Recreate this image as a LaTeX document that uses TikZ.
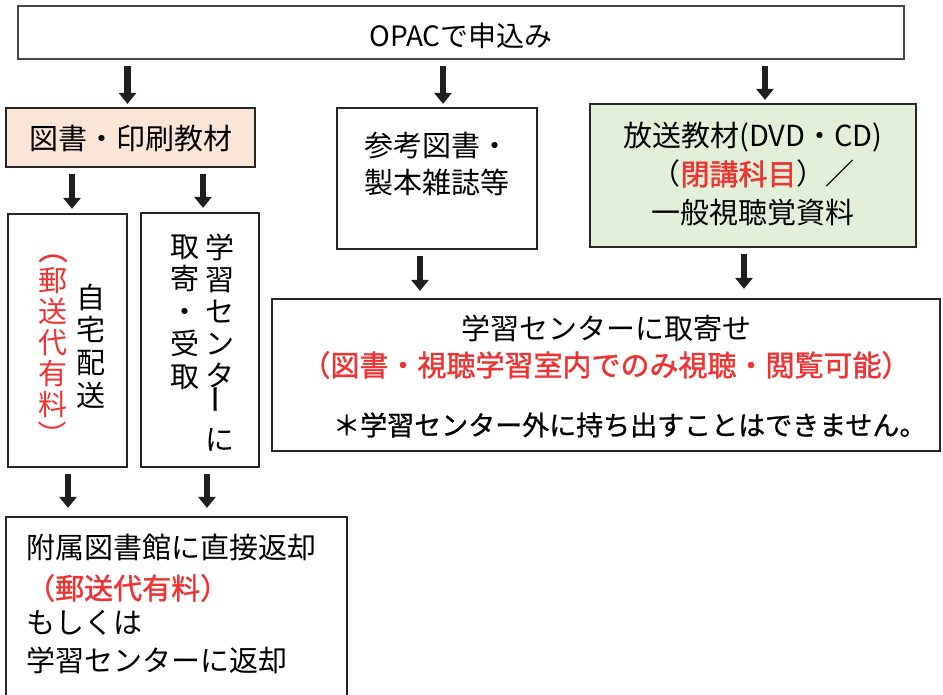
\documentclass[tikz,border=0pt]{standalone}
\usepackage{fontspec}
\usepackage{graphicx}
\setmainfont{Noto Sans CJK JP}
\newfontfamily\jpred{Noto Sans CJK JP}[FakeBold=1.3]
\newfontfamily\jpmed{Noto Sans CJK JP}[FakeBold=0.9]
\usetikzlibrary{arrows.meta,calc}
\definecolor{peach}{HTML}{FBE5D6}
\definecolor{mint}{HTML}{E2F0D9}
\definecolor{redtxt}{HTML}{EE3333}
\definecolor{edge}{HTML}{262626}
\newcommand{\vparL}{\rotatebox[origin=c]{-90}{（}}
\newcommand{\vparR}{\rotatebox[origin=c]{-90}{）}}
\newcommand{\rtx}[1]{{\jpred\color{redtxt}#1}}
\tikzset{
  box/.style={draw=edge, line width=2.2pt, inner sep=0pt, fill=white},
  topbox/.style={draw=black!72, line width=1.8pt, inner sep=0pt, fill=white},
  txt/.style={inner sep=0pt, font=\fontsize{29pt}{33pt}\selectfont, text=black},
  arr/.style={draw=black!88, line width=6.5pt, -{Triangle[width=17pt,length=11pt]}},
}
\begin{document}
\begin{tikzpicture}[x=1pt,y=-1pt]
\useasboundingbox (0,0) rectangle (943,694);
% boxes
\node[topbox, minimum width=886pt, minimum height=53pt] (top) at (461,32.5) {};
\node[box, fill=peach, minimum width=249pt, minimum height=59pt] (lib) at (130.5,137.5) {};
\node[box, minimum width=200pt, minimum height=141pt] (ref) at (437,178.5) {};
\node[box, fill=mint, minimum width=326pt, minimum height=143pt] (av) at (753,175.5) {};
\node[box, minimum width=119pt, minimum height=253pt] (home) at (67.5,340.5) {};
\node[box, minimum width=118pt, minimum height=254pt] (pick) at (200,340) {};
\node[box, minimum width=341pt, minimum height=203pt] (ret) at (176.5,618.5) {};
\node[box, minimum width=668pt, minimum height=152pt] (wide) at (606,375) {};
% texts
\node[txt, font=\fontsize{28pt}{32pt}\selectfont] (ttop) at (461,36) {OPACで申込み};
\node[txt] (tlib) at (131,138) {図書・印刷教材};
\node[txt, align=center, font=\fontsize{29pt}{37pt}\selectfont] (tref) at (437,164) {参考図書・\\製本雑誌等};
\node[txt, align=center, font=\fontsize{29pt}{38.5pt}\selectfont] (tav) at (753,174) {放送教材(DVD・CD)\\（\rtx{閉講科目}）／\\一般視聴覚資料};
\node[txt, align=center, font=\fontsize{29pt}{31pt}\selectfont, text=redtxt] (thred) at (53,342) {\jpred\vparL\\郵\\送\\代\\有\\料\\\vparR};
\node[txt, align=center, font=\fontsize{29pt}{32.7pt}\selectfont] (thblk) at (91,346) {自\\宅\\配\\送};
\node[txt, align=center, font=\fontsize{29pt}{32pt}\selectfont] (tpr) at (220,343) {学\\習\\セ\\ン\\タ\\\phantom{ー}\\に};
\node[txt, font=\fontsize{29pt}{32pt}\selectfont, rotate=90] (tbar) at (220,399) {\jpmed ー};
\node[txt, align=center, font=\fontsize{29pt}{32.5pt}\selectfont] (tpl) at (185,312) {取\\寄\\・\\受\\取};
\node[txt, anchor=west] (r1) at (26,547) {附属図書館に直接返却};
\node[txt, anchor=west] (r2) at (26,588) {\rtx{（郵送代有料）}};
\node[txt, anchor=west] (r3) at (26,623) {もしくは};
\node[txt, anchor=west] (r4) at (26,660) {学習センターに返却};
\node[txt] (w1) at (606,328) {学習センターに取寄せ};
\node[txt] (w2) at (606,365) {\rtx{（図書・視聴学習室内でのみ視聴・閲覧可能）}};
\node[txt, anchor=west, font=\fontsize{27pt}{31pt}\selectfont] (w3) at (333,425) {\jpmed ＊学習センター外に持ち出すことはできません。};
% arrows
\draw[arr] ([xshift=-3pt,yshift=-6pt]top.south -| lib.north) -- ([xshift=-3pt,yshift=3pt]lib.north);
\draw[arr] ([xshift=6pt,yshift=-6pt]top.south -| ref.north) -- ([xshift=6pt,yshift=3pt]ref.north);
\draw[arr] ([xshift=12pt,yshift=-6pt]top.south -| av.north) -- ([xshift=12pt,yshift=3pt]av.north);
\draw[arr] ([xshift=4.5pt,yshift=-6pt]lib.south -| home.north) -- ([xshift=4.5pt,yshift=4pt]home.north);
\draw[arr] ([xshift=3pt,yshift=-6pt]lib.south -| pick.north) -- ([xshift=3pt,yshift=4pt]pick.north);
\draw[arr] ([xshift=0.5pt,yshift=-6pt]home.south) -- ([xshift=0.5pt,yshift=8pt]home.south |- ret.north);
\draw[arr] ([xshift=7pt,yshift=-6pt]pick.south) -- ([xshift=7pt,yshift=8pt]pick.south |- ret.north);
\draw[arr] ([xshift=-17pt,yshift=-6pt]ref.south) -- ([xshift=-17pt,yshift=7pt]ref.south |- wide.north);
\draw[arr] ([xshift=-9pt,yshift=-6pt]av.south) -- ([xshift=-9pt,yshift=9pt]av.south |- wide.north);
\end{tikzpicture}
\end{document}
